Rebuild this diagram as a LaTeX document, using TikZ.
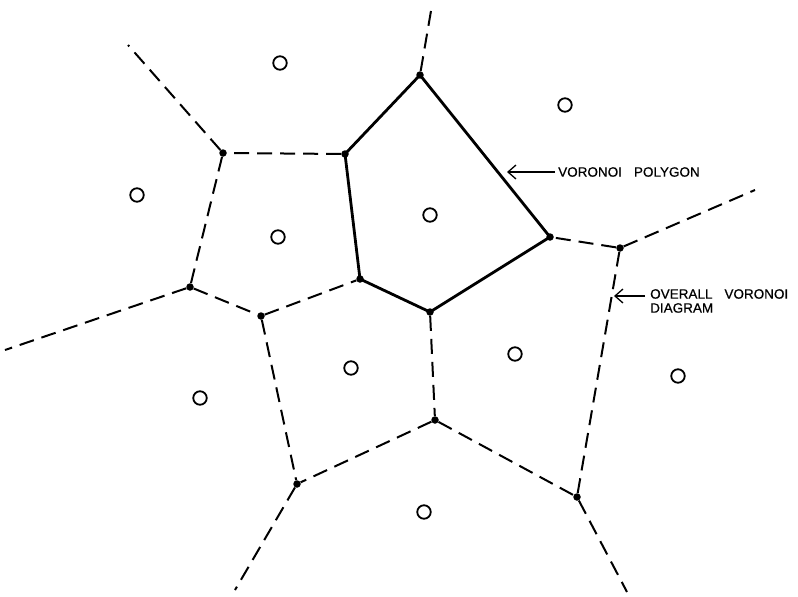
\documentclass[tikz,border=0pt]{standalone}
\usepackage{fontspec}
\setmainfont{Liberation Sans}
\newfontfamily\heavylbl[FakeBold=0.6]{Liberation Sans}
\usetikzlibrary{arrows.meta}
\begin{document}
\begin{tikzpicture}[x=1pt,y=-1pt,
  edge/.style={line width=2pt, dash pattern=on 15pt off 8pt},
  cell/.style={line width=2.8pt},
  vtx/.style={circle, fill=black, inner sep=0pt, minimum size=7.5pt},
  site/.style={circle, draw=black, line width=1.8pt, inner sep=0pt, minimum size=13.5pt},
  lbl/.style={font=\heavylbl\fontsize{13.5}{14}\selectfont, anchor=west, inner sep=0pt, align=left},
  pointer/.style={line width=1.3pt, -{Straight Barb[length=8pt,width=14pt]}}]
\useasboundingbox (0,0) rectangle (798,597);
% Voronoi vertices
\node[vtx] (A) at (420,75) {};
\node[vtx] (B) at (345,154) {};
\node[vtx] (C) at (223,153) {};
\node[vtx] (D) at (550,237) {};
\node[vtx] (E) at (620,248) {};
\node[vtx] (F) at (360,279) {};
\node[vtx] (G) at (430,312) {};
\node[vtx] (H) at (190,287) {};
\node[vtx] (I) at (261,316) {};
\node[vtx] (J) at (435,420) {};
\node[vtx] (K) at (297,484) {};
\node[vtx] (L) at (577,497) {};
% free ends of the unbounded edges
\coordinate (tA) at (432,5);
\coordinate (tC) at (128,45);
\coordinate (tH) at (5,350);
\coordinate (tK) at (235,590);
\coordinate (tL) at (627,592);
\coordinate (tE) at (755,190);
% sites
\foreach \n/\p in {s1/{(280,63)}, s2/{(565,105)}, s3/{(137,195)}, s4/{(278,237)},
  s5/{(430,215)}, s6/{(515,354)}, s7/{(351,368)}, s8/{(200,398)},
  s9/{(678,376)}, s10/{(424,512)}}
  \node[site] (\n) at \p {};
% the highlighted polygon
\draw[cell, line join=round] (A.center) -- (B.center) -- (F.center) -- (G.center) -- (D.center) -- cycle;
% remaining edges of the diagram
\draw[edge] (A) -- (tA);
\draw[edge] (B) -- (C);
\draw[edge] (C) -- (tC);
\draw[edge] (C) -- (H);
\draw[edge] (H) -- (tH);
\draw[edge] (H) -- (I);
\draw[edge] (I) -- (F);
\draw[edge] (I) -- (K);
\draw[edge] (G) -- (J);
\draw[edge] (J) -- (K);
\draw[edge] (J) -- (L);
\draw[edge] (K) -- (tK);
\draw[edge] (L) -- (tL);
\draw[edge] (L) -- (E);
\draw[edge] (E) -- (D);
\draw[edge] (E) -- (tE);
% labels
\node[lbl] (p) at (558,172) {VORONOI\hspace{12pt}POLYGON};
\coordinate (pa) at (507,172);
\draw[pointer] (p.west) ++(-3,0) -- (pa);
\node[lbl, anchor=north west] (o) at (650,289) {OVERALL\hspace{12pt}VORONOI\\DIAGRAM};
\coordinate (oa) at (614,296);
\draw[pointer] (645,296) -- (oa);
\end{tikzpicture}
\end{document}
